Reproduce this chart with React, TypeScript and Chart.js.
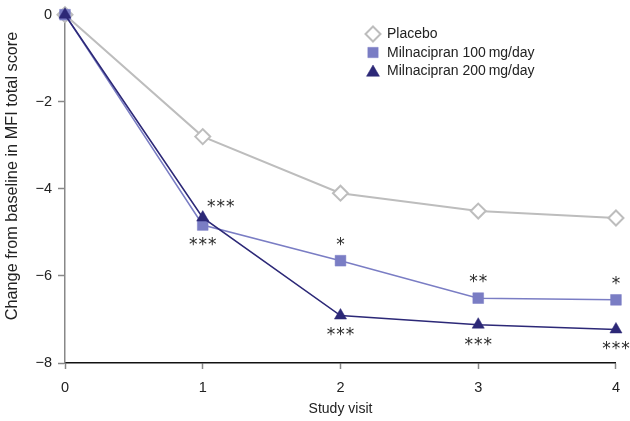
import { useEffect, useRef } from 'react';
import { Chart, registerables } from 'chart.js';

Chart.register(...registerables);

const visits = [0, 1, 2, 3, 4];
const placebo = [0, -2.8, -4.1, -4.51, -4.67];
const mil100 = [0, -4.83, -5.65, -6.51, -6.55];
const mil200 = [0, -4.66, -6.91, -7.12, -7.23];
const sig100 = ['', '***', '*', '**', '*'];
const sig200 = ['', '***', '***', '***', '***'];
const seriesLabels = ['Placebo', 'Milnacipran 100\u2009mg/day', 'Milnacipran 200\u2009mg/day'];
const yTitle = 'Change from baseline in MFI total score';
const xTitle = 'Study visit';

const FONT = "'Liberation Sans', Arial, Helvetica, sans-serif";
const GRAY = '#bdbdbd';
const MID = '#7a7dc4';
const DARK = '#2c2877';

function drawMarker(ctx: CanvasRenderingContext2D, style: string, x: number, y: number, r: number) {
  ctx.beginPath();
  if (style === 'rectRot') {
    ctx.moveTo(x, y - r);
    ctx.lineTo(x + r, y);
    ctx.lineTo(x, y + r);
    ctx.lineTo(x - r, y);
    ctx.closePath();
  } else if (style === 'rect') {
    const s = r * Math.SQRT1_2;
    ctx.rect(x - s, y - s, 2 * s, 2 * s);
  } else {
    ctx.moveTo(x, y - r);
    ctx.lineTo(x + Math.sin(2 * Math.PI / 3) * r, y + 0.5 * r);
    ctx.lineTo(x - Math.sin(2 * Math.PI / 3) * r, y + 0.5 * r);
    ctx.closePath();
  }
  ctx.fill();
  ctx.stroke();
}

const legendPlugin = {
  id: 'customLegend',
  afterDraw(chart: any) {
    const ctx = chart.ctx;
    const items = chart.data.datasets;
    const x0 = 373;
    const ys = [34, 52.5, 71];
    ctx.save();
    items.forEach((ds: any, i: number) => {
      const y = ys[i];
      ctx.fillStyle = ds.pointBackgroundColor;
      ctx.strokeStyle = ds.pointBorderColor;
      ctx.lineWidth = ds.pointBorderWidth;
      const r = i === 1 ? 7.3 : 7.5;
      drawMarker(ctx, ds.pointStyle, x0, y + (ds.pointStyle === 'triangle' ? 1.5 : 0), r);
      ctx.fillStyle = '#222';
      ctx.font = `14px ${FONT}`;
      ctx.textBaseline = 'middle';
      ctx.textAlign = 'left';
      ctx.fillText(ds.label, 387, y + 0.5);
    });
    // y axis title
    ctx.translate(13, 176);
    ctx.rotate(-Math.PI / 2);
    ctx.fillStyle = '#222';
    ctx.font = `16.3px ${FONT}`;
    ctx.textAlign = 'center';
    ctx.textBaseline = 'middle';
    ctx.fillText(yTitle, 0, 0);
    ctx.restore();
  },
};

const sigPlugin = {
  id: 'sigMarks',
  afterDatasetsDraw(chart: any) {
    const ctx = chart.ctx;
    ctx.save();
    ctx.fillStyle = '#2a2a2a';
    ctx.font = `17px 'DejaVu Sans', sans-serif`;
    ctx.textAlign = 'center';
    ctx.textBaseline = 'middle';
    const drawStars = (s: string, cx: number, cy: number) => {
      const pitch = 9.5;
      const start = cx - ((s.length - 1) * pitch) / 2;
      for (let k = 0; k < s.length; k++) {
        ctx.fillText(s[k], start + k * pitch, cy + 3);
      }
    };
    const m100 = chart.getDatasetMeta(1);
    const m200 = chart.getDatasetMeta(2);
    sig100.forEach((s, i) => {
      if (!s) return;
      const p = m100.data[i];
      const dy = i === 1 ? 18 : -18.5;
      drawStars(s, p.x, p.y + dy);
    });
    sig200.forEach((s, i) => {
      if (!s) return;
      const p = m200.data[i];
      if (i === 1) drawStars(s, p.x + 18, p.y - 13);
      else drawStars(s, p.x, p.y + 17.5);
    });
    ctx.restore();
  },
};

export default function App() {
  const ref = useRef<HTMLCanvasElement>(null);
  useEffect(() => {
    if (!ref.current) return;
    const toXY = (arr: number[]) => arr.map((v, i) => ({ x: visits[i], y: v }));
    const chart = new Chart(ref.current, {
      type: 'line',
      data: {
        datasets: [
          {
            label: seriesLabels[0],
            data: toXY(placebo),
            borderColor: GRAY,
            borderWidth: 2,
            pointStyle: 'rectRot',
            pointRadius: 7.5,
            pointBackgroundColor: '#ffffff',
            pointBorderColor: GRAY,
            pointBorderWidth: 2,
            clip: false,
            order: 3,
          } as any,
          {
            label: seriesLabels[1],
            data: toXY(mil100),
            borderColor: MID,
            borderWidth: 1.5,
            pointStyle: 'rect',
            pointRadius: 7.6,
            pointBackgroundColor: MID,
            pointBorderColor: MID,
            pointBorderWidth: 0.5,
            clip: false,
            order: 2,
          } as any,
          {
            label: seriesLabels[2],
            data: toXY(mil200),
            borderColor: DARK,
            borderWidth: 1.6,
            pointStyle: 'triangle',
            pointRadius: 7,
            pointBackgroundColor: DARK,
            pointBorderColor: DARK,
            pointBorderWidth: 0.5,
            clip: false,
            order: 1,
          } as any,
        ],
      },
      options: {
        animation: false,
        responsive: false,
        layout: { padding: { left: 0, right: 11, top: 8, bottom: 0 } },
        plugins: { legend: { display: false }, tooltip: { enabled: false } },
        scales: {
          x: {
            type: 'linear',
            min: 0,
            max: 4,
            afterFit: (s: any) => { s.height = 58; },
            ticks: { stepSize: 1, color: '#222', font: { family: FONT, size: 14.5 }, padding: 10 },
            grid: { display: true, drawOnChartArea: false, drawTicks: true, tickLength: 6, color: '#888', tickWidth: 1.5 },
            border: { display: true, color: '#111', width: 1.5 },
            title: { display: true, text: xTitle, color: '#222', font: { family: FONT, size: 14 }, padding: { top: 0, bottom: 3 } },
          },
          y: {
            min: -8,
            max: 0,
            afterFit: (s: any) => { s.width = 65; },
            ticks: {
              stepSize: 2,
              color: '#222',
              font: { family: FONT, size: 14.5 },
              padding: 6,
              callback: (v: any) => (v === 0 ? '0' : '\u2212' + Math.abs(v)),
            },
            grid: { display: true, drawOnChartArea: false, drawTicks: true, tickLength: 7, color: '#888', tickWidth: 1.5 },
            border: { display: true, color: '#888', width: 1.5 },
            title: { display: false },
          },
        },
      },
      plugins: [sigPlugin, legendPlugin],
    });
    return () => chart.destroy();
  }, []);
  return (
    <div style={{ position: 'fixed', left: 0, top: 0, width: 630, height: 421, background: '#fff' }}>
      <canvas ref={ref} width={630} height={421} style={{ display: 'block' }} />
    </div>
  );
}
